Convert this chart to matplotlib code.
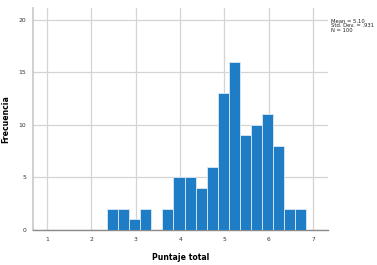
import matplotlib
matplotlib.use("Agg")
import matplotlib.pyplot as plt
import numpy as np

# histogram bins (width 0.25) and counts
bin_edges = [2.35, 2.60, 2.85, 3.10, 3.35, 3.60, 3.85, 4.10, 4.35, 4.60,
             4.85, 5.10, 5.35, 5.60, 5.85, 6.10, 6.35, 6.60, 6.85]
counts = [2, 2, 1, 2, 0, 2, 5, 5, 4, 6, 13, 16, 9, 10, 11, 8, 2, 2]
x_ticks = [1, 2, 3, 4, 5, 6, 7]
y_ticks = [0, 5, 10, 15, 20]
stats_text = "Mean = 5.10\nStd. Dev. = .931\nN = 100"

fig = plt.figure(figsize=(3.77, 2.65), dpi=100)
ax = fig.add_axes([0.0875, 0.132, 0.783, 0.838])

lefts = np.array(bin_edges[:-1])
widths = np.diff(bin_edges)
ax.bar(lefts, counts, width=widths, align="edge", color="#1f7dc6",
       edgecolor="#dbe9f5", linewidth=0.6, zorder=3)

ax.set_xlim(0.68, 7.34)
ax.set_ylim(0, 21.1)
ax.set_xticks(x_ticks)
ax.set_yticks(y_ticks)
ax.grid(True, color="#d4d4d4", linewidth=0.9, zorder=0)
ax.tick_params(labelsize=4.3, length=0, pad=5, colors="#333333")

for s in ["top", "right"]:
    ax.spines[s].set_visible(False)
ax.spines["left"].set_color("#c8c8c8")
ax.spines["bottom"].set_color("#8a8a8a")
ax.spines["left"].set_linewidth(1.2)
ax.spines["bottom"].set_linewidth(1.0)

ax.set_xlabel("Puntaje total", fontsize=5.6, fontweight="bold")
ax.set_ylabel("Frecuencia", fontsize=5.6, fontweight="bold")
ax.xaxis.set_label_coords(0.5, -0.105)
ax.yaxis.set_label_coords(-0.078, 0.5)

fig.text(0.877, 0.93, stats_text, fontsize=3.8, va="top", ha="left",
         linespacing=0.95, color="#222222")

fig.savefig("out.png", dpi=100)
